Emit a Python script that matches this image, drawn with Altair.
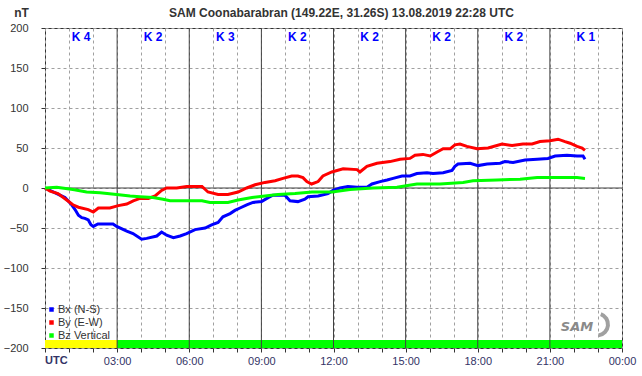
import altair as alt
import pandas as pd

TITLE = "SAM Coonabarabran (149.22E, 31.26S) 13.08.2019 22:28 UTC"

bx_h = [0.00, 0.49, 0.83, 1.11, 1.25, 1.39, 1.53, 1.66, 1.80, 1.91, 2.01, 2.20, 2.83, 2.98, 3.40, 3.66, 4.02, 4.23,
        4.65, 4.85, 5.06, 5.34, 5.62, 5.89, 6.24, 6.66, 6.93, 7.20, 7.40, 7.70, 7.90, 8.11, 8.39, 8.65, 9.01, 9.28,
        9.48, 9.98, 10.19, 10.52, 10.81, 10.94, 11.36, 11.77, 11.98, 12.27, 12.60, 12.98, 13.39, 13.60, 13.94, 14.23,
        14.48, 14.85, 15.18, 15.47, 15.89, 16.14, 16.56, 16.93, 17.05, 17.18, 17.68, 18.01, 18.39, 18.93, 19.13, 19.47,
        19.97, 20.47, 20.92, 21.22, 21.71, 22.13, 22.38, 22.46]
bx_v = [0, -7, -12, -21, -27, -34, -37, -38, -40, -46, -48, -45, -45, -48, -54, -57, -64, -63,
        -60, -55, -59, -62, -60, -57, -52, -50, -46, -43, -36, -32, -28, -25, -21, -18, -17, -12,
        -9, -9, -16, -17, -14, -11, -10, -7, -3, 0, 2, 1, 1, 5, 8, 10,
        12, 15, 15, 18, 19, 18, 19, 22, 27, 30, 31, 28, 30, 31, 33, 32,
        35, 36, 37, 40, 41, 40, 40, 36]

by_h = [0.00, 0.21, 0.54, 0.90, 1.16, 1.39, 1.80, 2.01, 2.22, 2.70, 3.05, 3.40, 3.67, 3.95, 4.30, 4.58, 4.85, 5.06,
        5.48, 5.89, 6.53, 6.78, 7.20, 7.61, 8.03, 8.39, 8.74, 9.15, 9.57, 9.90, 10.26, 10.52, 10.73, 10.89, 11.09,
        11.36, 11.56, 11.93, 12.40, 12.98, 13.10, 13.39, 13.81, 14.35, 14.77, 15.18, 15.39, 15.72, 16.02, 16.31,
        16.56, 16.85, 17.05, 17.26, 17.55, 17.97, 18.43, 19.01, 19.43, 19.88, 20.26, 20.59, 21.01, 21.34, 21.63,
        21.84, 22.13, 22.34, 22.46]
by_v = [0, -4, -7, -15, -21, -24, -27, -30, -25, -25, -22, -20, -16, -13, -13, -10, -3, 0,
        0, 2, 2, -5, -8, -8, -5, 0, 4, 7, 9, 12, 15, 15, 13, 8, 5,
        8, 15, 20, 24, 23, 20, 27, 31, 33, 36, 37, 41, 42, 40, 45,
        49, 49, 54, 55, 52, 49, 50, 55, 53, 55, 55, 58, 59, 61, 58,
        56, 52, 50, 47]

bz_h = [0.00, 0.49, 1.16, 1.73, 2.29, 2.98, 3.54, 3.95, 4.49, 4.91, 5.20, 5.89, 6.53, 6.86, 7.61, 8.03, 8.61, 9.15,
        9.69, 10.40, 11.11, 11.94, 12.69, 13.64, 14.64, 15.47, 16.43, 17.39, 17.80, 18.80, 19.76, 20.47, 22.13, 22.46]
bz_v = [0, 1, -2, -5, -6, -8, -10, -11, -12, -14, -16, -16, -16, -18, -18, -15, -12, -10,
        -8, -7, -5, -5, -2, 0, 1, 5, 5, 7, 9, 10, 11, 13, 13, 12]

series_names = ["Bx (N-S)", "By (E-W)", "Bz Vertical"]
series_colors = ["#0000ff", "#ff0000", "#00ff00"]

k_hours = [1.5, 4.5, 7.5, 10.5, 13.5, 16.5, 19.5, 22.5]
k_labels = ["K 4", "K 2", "K 3", "K 2", "K 2", "K 2", "K 2", "K 1"]
k_level = [189] * 8

bar_start = [0, 3]
bar_end = [3, 24]
bar_low = [-200, -200]
bar_high = [-190, -190]
bar_color = ["#ffff00", "#00ff00"]

hour_ticks = list(range(0, 25))
major_hours = [3, 6, 9, 12, 15, 18, 21]
nt_ticks = list(range(-200, 201, 50))
solid_nt = [0]

FONT = "Liberation Sans"

lines_df = pd.concat([
    pd.DataFrame({"hour": bx_h, "value": bx_v, "series": series_names[0]}),
    pd.DataFrame({"hour": by_h, "value": by_v, "series": series_names[1]}),
    pd.DataFrame({"hour": bz_h, "value": bz_v, "series": series_names[2]}),
], ignore_index=True)

xscale = alt.Scale(domain=[0, 24], nice=False, zero=False)
yscale = alt.Scale(domain=[-200, 200], nice=False, zero=False)

x_axis = alt.Axis(
    values=hour_ticks,
    labelExpr="datum.value == 0 ? '' : (datum.value % 3 == 0 ? (datum.value == 24 ? '00:00' : (datum.value < 10 ? '0' : '') + datum.value + ':00') : '')",
    labelFont=FONT, labelFontSize=11, labelColor="#333366", labelPadding=3,
    labelOverlap=False, labelBound=False, labelFlush=False,
    tickSize=4, tickColor="#333333", domain=False,
    grid=True, gridColor="#a0a0a0", gridDash=[3, 3], gridWidth=1, title=None,
)
y_axis = alt.Axis(
    values=nt_ticks,
    labelFont=FONT, labelFontSize=11, labelColor="#333333", labelPadding=13,
    labelOverlap=False, labelBound=False, labelFlush=False,
    tickSize=4, tickColor="#333333", domain=False,
    grid=True, gridColor="#a0a0a0", gridDash=[3, 3], gridWidth=1,
    title="nT", titleAngle=0, titleX=-24, titleY=-16, titleAlign="center", titleBaseline="middle",
    titleFont=FONT, titleFontSize=12, titleFontWeight="bold", titleColor="#333333",
)


def X(field):
    return alt.X(field, scale=xscale, axis=x_axis)


def Y(field):
    return alt.Y(field, scale=yscale, axis=y_axis)


lines = alt.Chart(lines_df).mark_line(strokeWidth=3, interpolate="linear").encode(
    x=X("hour:Q"),
    y=Y("value:Q"),
    color=alt.Color("series:N", scale=alt.Scale(domain=series_names, range=series_colors),
                    legend=alt.Legend(title=None, orient="none", legendX=1, legendY=276,
                                      symbolType="square", symbolSize=4, symbolStrokeWidth=2.5,
                                      labelFont=FONT, labelFontSize=11, labelColor="#333333",
                                      labelOffset=1, rowPadding=0, padding=0)),
    order=alt.Order("hour:Q"),
)

bars = alt.Chart(pd.DataFrame({"s": bar_start, "e": bar_end, "lo": bar_low, "hi": bar_high, "c": bar_color})).mark_rect().encode(
    x=X("s:Q"), x2="e:Q",
    y=Y("lo:Q"), y2="hi:Q",
    fill=alt.Fill("c:N", scale=None),
)

vmajor = alt.Chart(pd.DataFrame({"h": major_hours})).mark_rule(
    color="#404040", strokeWidth=1
).encode(x=X("h:Q"))
hmajor = alt.Chart(pd.DataFrame({"v": solid_nt})).mark_rule(
    color="#404040", strokeWidth=1
).encode(y=Y("v:Q"))

ktext = alt.Chart(pd.DataFrame({"h": k_hours, "k": k_labels, "lv": k_level})).mark_text(
    font=FONT, fontSize=12, fontWeight="bold", color="#0000ff", baseline="middle", align="center"
).encode(x=X("h:Q"), y=Y("lv:Q"), text="k:N")

utc = alt.Chart(pd.DataFrame({"t": ["UTC"]})).mark_text(
    font=FONT, fontSize=11, fontWeight="bold", color="#333366", baseline="top", align="left"
).encode(x=alt.value(0), y=alt.value(327), text="t:N")

title = alt.Chart(pd.DataFrame({"t": [TITLE]})).mark_text(
    font=FONT, fontSize=12, fontWeight="bold", color="#333333", baseline="middle", align="center"
).encode(x=alt.value(296.5), y=alt.value(-15), text="t:N")

logo = alt.Chart(pd.DataFrame({"t": ["SAM"]})).mark_text(
    font="DejaVu Sans", fontSize=13, fontWeight="bold", fontStyle="italic", color="#8a8a8a",
    baseline="middle", align="center"
).encode(x=alt.value(532), y=alt.value(299), text="t:N")

swoosh = alt.Chart(pd.DataFrame({"t": ["SAM"]})).mark_arc(
    theta=0.35, theta2=3.0, radius=13, radius2=9, color="#a0a0a0"
).encode(x=alt.value(552), y=alt.value(296.5))

chart = alt.layer(bars, vmajor, hmajor, lines, ktext, utc, title, swoosh, logo).properties(
    width=577, height=320,
    autosize=alt.AutoSizeParams(type="none"),
    padding={"left": 45, "top": 28, "right": 20, "bottom": 28},
    background="white",
).configure_view(stroke="#333333", strokeWidth=1)

chart.save("out.html", embed_options={"renderer": "svg", "actions": False})
